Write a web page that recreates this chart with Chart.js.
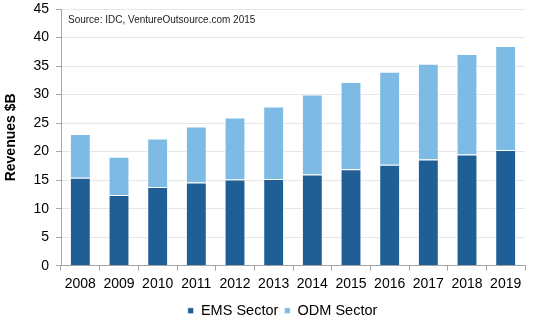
<!DOCTYPE html>
<html>
<head>
<meta charset="utf-8">
<script src="https://cdn.jsdelivr.net/npm/chart.js@4/dist/chart.umd.min.js"></script>
<style>
  html, body { margin: 0; padding: 0; background: #fff; }
  #wrap { width: 535px; height: 332px; position: relative; }
</style>
</head>
<body>
<div id="wrap"><canvas id="graph"></canvas></div>
<script>
const years = ['2008','2009','2010','2011','2012','2013','2014','2015','2016','2017','2018','2019'];
const emsSector = [15.4, 12.4, 13.8, 14.6, 15.1, 15.2, 16.0, 16.9, 17.7, 18.6, 19.5, 20.3];
const odmSector = [7.7, 6.7, 8.5, 9.8, 10.9, 12.7, 14.0, 15.3, 16.3, 16.8, 17.6, 18.2];
const yTicks = [0, 5, 10, 15, 20, 25, 30, 35, 40, 45];
const sourceNote = 'Source: IDC, VentureOutsource.com 2015';

Chart.defaults.font.family = "'Liberation Sans', Arial, sans-serif";
Chart.defaults.color = '#000';

// source line inside the plot, top-left
const sourcePlugin = {
  id: 'sourceNote',
  afterDraw(chart) {
    const ctx = chart.ctx;
    const a = chart.chartArea;
    ctx.save();
    ctx.font = "10px 'Liberation Sans', Arial, sans-serif";
    ctx.fillStyle = '#222';
    ctx.textBaseline = 'middle';
    ctx.fillText(sourceNote, a.left + 7, a.top + 11);
    ctx.restore();
  }
};

// legend in the original sits a bit right of the canvas centre
const legendShift = {
  id: 'legendShift',
  afterLayout(chart) {
    chart.legend.left += 20;
    chart.legend.right += 20;
  }
};

const mychart = new Chart(document.getElementById('graph'), {
  type: 'bar',
  data: {
    labels: years,
    datasets: [
      {
        label: 'EMS Sector',
        data: emsSector,
        backgroundColor: '#1f5f96',
        borderColor: 'rgba(255,255,255,0.7)',
        borderWidth: 1,
        barPercentage: 0.54,
        categoryPercentage: 1
      },
      {
        label: 'ODM Sector',
        data: odmSector,
        backgroundColor: '#7dbbe4',
        borderColor: 'rgba(255,255,255,0.7)',
        borderWidth: 1,
        barPercentage: 0.54,
        categoryPercentage: 1
      }
    ]
  },
  options: {
    responsive: true,
    maintainAspectRatio: false,
    animation: false,
    layout: { padding: { left: 0, right: 10, top: 0, bottom: 4 } },
    plugins: {
      tooltip: { enabled: false },
      legend: {
        position: 'bottom',
        labels: {
          boxWidth: 6,
          boxHeight: 6,
          padding: 6,
          font: { size: 14.5 },
          color: '#000'
        }
      }
    },
    scales: {
      x: {
        stacked: true,
        grid: { offset: true, drawOnChartArea: false, tickLength: 5, color: '#a6a6a6' },
        border: { color: '#a6a6a6' },
        ticks: { font: { size: 14 }, color: '#000', padding: 5, maxRotation: 0 }
      },
      y: {
        stacked: true,
        min: 0,
        max: 45,
        afterBuildTicks(scale) { scale.ticks = yTicks.map(v => ({ value: v })); },
        afterFit(scale) {
          scale.width = 61;
          scale.paddingTop = 9;
        },
        grid: { color: '#e6e6e6', tickLength: 5, tickColor: '#a6a6a6' },
        border: { color: '#a6a6a6' },
        ticks: { font: { size: 14 }, color: '#000', padding: 7 },
        title: {
          display: true,
          text: 'Revenues $B',
          font: { size: 14, weight: 'bold' },
          color: '#000',
          padding: { top: 3, bottom: 0 }
        }
      }
    }
  },
  plugins: [sourcePlugin, legendShift]
});
</script>
</body>
</html>
